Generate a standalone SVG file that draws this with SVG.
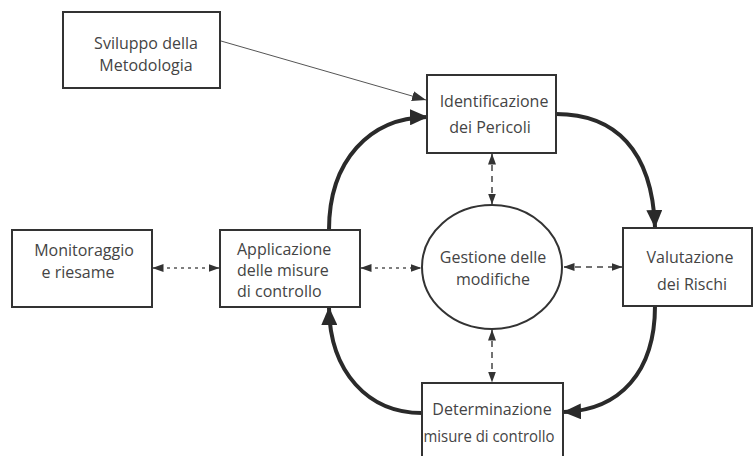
<svg xmlns="http://www.w3.org/2000/svg" width="753" height="456" viewBox="0 0 753 456">
<style>
.box{fill:#fff;stroke:#333;stroke-width:2}
.t{font-family:"Open Sans","Liberation Sans",sans-serif;font-size:16px;fill:#444;text-anchor:middle}
.tl{text-anchor:start}
.thick{fill:none;stroke:#2a2a2a;stroke-width:4}
.thin{fill:none;stroke:#555;stroke-width:1}
.dot{fill:none;stroke:#555;stroke-width:1.5;stroke-dasharray:3 4}
.dash{fill:none;stroke:#444;stroke-width:1.5;stroke-dasharray:6 5}
</style>
<defs>
<marker id="big" markerUnits="userSpaceOnUse" markerWidth="18" markerHeight="16" viewBox="0 0 18 16" refX="17" refY="8" orient="auto">
<path d="M0,0 L18,8 L0,16 z" fill="#2a2a2a"/>
</marker>
<marker id="sm" markerUnits="userSpaceOnUse" markerWidth="11" markerHeight="8" viewBox="0 0 11 8" refX="10.5" refY="4" orient="auto-start-reverse">
<path d="M0,0 L11,4 L0,8 z" fill="#333"/>
</marker>
<marker id="thinA" markerUnits="userSpaceOnUse" markerWidth="14" markerHeight="10" viewBox="0 0 14 10" refX="14" refY="5" orient="auto">
<path d="M0,0 L14,5 L0,10 z" fill="#333"/>
</marker>
</defs>
<g id="connectors">
<path class="thin" d="M221,41 L426,100" marker-end="url(#thinA)"/>
<path class="thick" d="M556,114 C615,114 652,150 655,227" marker-end="url(#big)"/>
<path class="thick" d="M655,306 C655,372 620,410 564,412" marker-end="url(#big)"/>
<path class="thick" d="M422,413 C368,413 330,372 329,308" marker-end="url(#big)"/>
<path class="thick" d="M329,230 C329,160 370,118 427,117" marker-end="url(#big)"/>
<path class="dot" d="M153,268 L219,268" marker-start="url(#sm)" marker-end="url(#sm)"/>
<path class="dot" d="M361,268 L421,268" marker-start="url(#sm)" marker-end="url(#sm)"/>
<path class="dash" d="M564,267 L622,267" marker-start="url(#sm)" marker-end="url(#sm)"/>
<path class="dash" d="M492,154 L492,204" marker-start="url(#sm)" marker-end="url(#sm)"/>
<path class="dash" d="M492,330 L492,382" marker-start="url(#sm)" marker-end="url(#sm)"/>
</g>
<g id="sviluppo">
<rect class="box" x="63" y="12" width="157" height="76"/>
<text class="t" x="146" y="49">Sviluppo della</text>
<text class="t" x="146" y="71">Metodologia</text>
</g>
<g id="identificazione">
<rect class="box" x="427" y="75" width="129" height="78"/>
<text class="t" x="494" y="107">Identificazione</text>
<text class="t" x="490" y="133">dei Pericoli</text>
</g>
<g id="monitoraggio">
<rect class="box" x="12" y="230" width="140" height="77"/>
<text class="t" x="84" y="256">Monitoraggio</text>
<text class="t" x="78" y="278">e riesame</text>
</g>
<g id="applicazione">
<rect class="box" x="220" y="230" width="140" height="77"/>
<text class="t tl" x="237" y="255">Applicazione</text>
<text class="t tl" x="237" y="276">delle misure</text>
<text class="t tl" x="237" y="297">di controllo</text>
</g>
<g id="gestione">
<ellipse cx="492" cy="267" rx="70" ry="62" fill="#fff" stroke="#333" stroke-width="2"/>
<text class="t" x="493" y="263">Gestione delle</text>
<text class="t" x="493" y="285">modifiche</text>
</g>
<g id="valutazione">
<rect class="box" x="623" y="228" width="129" height="78"/>
<text class="t" x="690" y="263">Valutazione</text>
<text class="t" x="692" y="290">dei Rischi</text>
</g>
<g id="determinazione">
<rect class="box" x="422" y="383" width="141" height="76"/>
<text class="t" x="492" y="415">Determinazione</text>
<text class="t" x="489" y="442" textLength="131" lengthAdjust="spacingAndGlyphs">misure di controllo</text>
</g>
</svg>
